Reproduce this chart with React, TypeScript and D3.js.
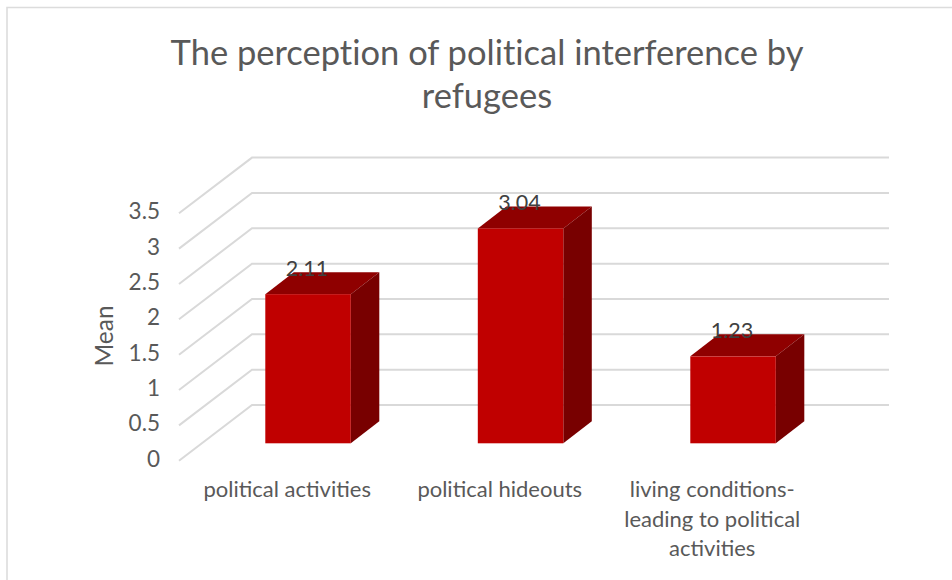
import React from "react";
import * as d3 from "d3";

const categories = ["political activities", "political hideouts", "living conditions-|leading to political|activities"];
const means = [2.11, 3.04, 1.23];
const valueLabels = ["2.11", "3.04", "1.23"];
const ticks = [0, 0.5, 1, 1.5, 2, 2.5, 3, 3.5];
const titleLines = ["The perception of political interference by", "refugees"];

const W = 952, H = 580;
const TXT = "#595959", GRID = "#d9d9d9";
const FONT = "Lato, Carlito, 'Open Sans', sans-serif";

// front plane of the 3D box
const y = d3.scaleLinear().domain([0, 3.5]).range([460.7, 213.3]);
const x = d3.scaleBand<number>().domain([0, 1, 2]).range([179, 816.5]);
const depthX = 73, depthY = 55.7;
const barOffX = 22.8, barOffY = 17.4;
const barW = 85.5, barDX = 28.5, barDY = 22;

const pts = (a: [number, number][]) => a.map((p) => p.join(",")).join(" ");

export default function App() {
  return (
    <svg width={W} height={H} viewBox={`0 0 ${W} ${H}`}
      style={{ position: "absolute", left: 0, top: 0, background: "#fff" }} fontFamily={FONT}>
      <path d={`M7 ${H} V7.5 H${W}`} fill="none" stroke="#dcdcdc" strokeWidth={1.6} />
      {titleLines.map((t, i) => (
        <text key={t} x={487} y={65 + i * 43} textAnchor="middle" fontSize={34.5} fill={TXT} style={{ fontVariantLigatures: "none" }}>{t}</text>
      ))}
      {ticks.map((t) => (
        <polyline key={t} fill="none" stroke={GRID} strokeWidth={2}
          points={pts([[179, y(t)], [179 + depthX, y(t) - depthY], [889, y(t) - depthY]])} />
      ))}
      {ticks.map((t) => (
        <text key={t} x={160} y={y(t) + 6} textAnchor="end" fontSize={22.5} fill={TXT}>{t}</text>
      ))}
      <text transform="translate(113,336) rotate(-90)" textAnchor="middle" fontSize={24.5} fill={TXT}>Mean</text>
      {means.map((v, i) => {
        const cx = x(i)! + x.bandwidth() / 2 + barOffX;
        const l = cx - barW / 2, r = cx + barW / 2;
        const b = y(0) - barOffY, top = b - (y(0) - y(v));
        return (
          <g key={i}>
            <polygon fill="#8f0000" points={pts([[l, top], [l + barDX, top - barDY], [r + barDX, top - barDY], [r, top]])} />
            <polygon fill="#780000" points={pts([[r, top], [r + barDX, top - barDY], [r + barDX, b - barDY], [r, b]])} />
            <rect x={l} y={top} width={barW} height={b - top} fill="#c00000" />
            <text x={cx - 1} y={top - barDY + 3.5} textAnchor="middle" fontSize={21.5} fill="#404040">{valueLabels[i]}</text>
          </g>
        );
      })}
      {categories.map((c, i) => (
        <text key={c} textAnchor="middle" fontSize={22} fill={TXT}>
          {c.split("|").map((s, j) => (
            <tspan key={s} x={x(i)! + x.bandwidth() / 2 + 2} y={497 + j * 29.5}>{s}</tspan>
          ))}
        </text>
      ))}
    </svg>
  );
}
